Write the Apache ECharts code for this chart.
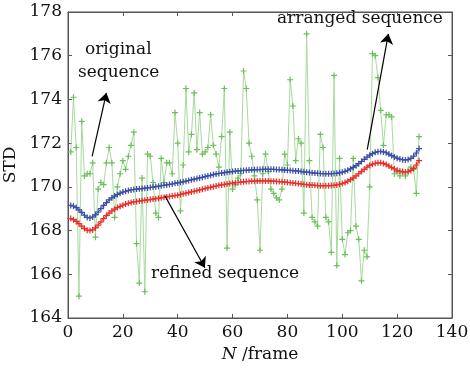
<!DOCTYPE html>
<html>
<head>
<meta charset="utf-8">
<script src="https://cdn.jsdelivr.net/npm/echarts@6/dist/echarts.min.js"></script>
<style>
html,body{margin:0;padding:0;background:#fff;}
#c{width:470px;height:371px;}
</style>
</head>
<body>
<div id="c"></div>
<script>
// ---- data ----
var xTicks = [0, 20, 40, 60, 80, 100, 120, 140];
var yTicks = [164, 166, 168, 170, 172, 174, 176, 178];
var frames = [];
for (var i = 1; i <= 128; i++) frames.push(i);

var originalSeq = [
 171.6,174.1,171.8,165.0,173.0,170.5,170.6,170.6,171.1,167.7,
 169.9,170.2,170.1,171.1,171.8,171.1,168.6,170.0,170.6,171.2,
 170.8,171.4,171.9,172.5,167.4,165.6,170.4,165.2,171.5,171.4,
 170.2,168.8,168.6,171.3,170.2,171.1,171.1,170.6,173.4,172.0,
 168.9,171.0,174.5,171.6,172.4,174.3,171.7,173.4,171.5,171.6,
 171.8,173.3,171.9,171.5,170.9,172.3,174.5,167.2,172.5,169.9,
 170.1,170.4,170.6,175.3,174.5,172.0,171.4,170.5,169.4,167.1,
 170.6,171.5,170.7,169.9,169.7,169.5,169.4,169.9,171.5,171.0,
 174.9,173.7,171.2,172.2,172.0,168.8,177.0,171.2,168.6,168.4,
 168.2,172.4,171.8,168.6,168.4,167.0,175.1,166.4,171.3,167.6,
 166.9,167.9,168.0,171.3,168.2,167.6,165.7,167.1,166.8,170.0,
 176.1,176.0,175.0,173.5,171.9,173.3,173.3,173.2,170.6,170.7,
 170.5,170.7,170.5,170.7,170.9,170.8,169.7,172.3
];

var arrangedSeq = [
 169.15,169.12,169.05,168.95,168.83,168.70,168.60,168.58,168.62,168.72,
 168.85,169.00,169.15,169.28,169.40,169.50,169.58,169.65,169.71,169.76,
 169.80,169.83,169.86,169.88,169.90,169.91,169.92,169.94,169.95,169.97,
 169.99,170.01,170.03,170.05,170.07,170.09,170.11,170.13,170.16,170.18,
 170.21,170.23,170.26,170.29,170.32,170.35,170.38,170.41,170.44,170.47,
 170.50,170.53,170.56,170.59,170.61,170.63,170.65,170.67,170.69,170.70,
 170.72,170.73,170.74,170.75,170.76,170.77,170.78,170.78,170.79,170.79,
 170.80,170.80,170.80,170.80,170.80,170.79,170.79,170.78,170.77,170.76,
 170.75,170.74,170.73,170.72,170.70,170.69,170.67,170.66,170.64,170.63,
 170.62,170.61,170.60,170.60,170.60,170.60,170.61,170.62,170.64,170.67,
 170.71,170.76,170.82,170.89,170.97,171.06,171.16,171.26,171.36,171.45,
 171.52,171.58,171.61,171.62,171.60,171.56,171.50,171.43,171.37,171.31,
 171.27,171.24,171.23,171.25,171.30,171.40,171.55,171.75
];

var refinedSeq = [
 168.55,168.50,168.42,168.32,168.20,168.09,168.02,168.00,168.03,168.12,
 168.25,168.40,168.55,168.68,168.80,168.90,168.98,169.05,169.11,169.16,
 169.21,169.25,169.28,169.31,169.33,169.35,169.37,169.39,169.40,169.42,
 169.44,169.46,169.48,169.50,169.52,169.54,169.56,169.58,169.60,169.62,
 169.65,169.68,169.71,169.74,169.77,169.80,169.83,169.86,169.89,169.92,
 169.95,169.98,170.01,170.04,170.07,170.09,170.11,170.13,170.15,170.17,
 170.19,170.20,170.22,170.23,170.24,170.25,170.26,170.26,170.27,170.27,
 170.27,170.27,170.27,170.26,170.26,170.25,170.24,170.23,170.22,170.21,
 170.19,170.18,170.16,170.15,170.13,170.12,170.10,170.09,170.08,170.07,
 170.06,170.05,170.05,170.05,170.05,170.06,170.07,170.09,170.12,170.15,
 170.20,170.26,170.33,170.41,170.50,170.60,170.70,170.80,170.90,170.98,
 171.04,171.08,171.10,171.10,171.07,171.02,170.95,170.88,170.82,170.76,
 170.72,170.69,170.68,170.70,170.75,170.85,171.00,171.20
];

// annotation arrows (data coordinates: [frame, STD])
var arrowOriginal = [[8.8, 171.4], [14.0, 174.3]];
var arrowArranged = [[109.1, 171.7], [116.8, 177.0]];
var arrowRefined  = [[35.3, 169.6], [49.9, 166.3]];

function pairs(xs, ys) { return xs.map(function (x, k) { return [x, ys[k]]; }); }

var plus = 'path://M4,0h2v4h4v2h-4v4h-2v-4h-4v-2h4z';
var font = 'DejaVu Serif';
var axisColor = '#555';

var chart = echarts.init(document.getElementById('c'), null, {renderer: 'canvas'});

function arrowLine(a) {
  return [{coord: a[0]}, {coord: a[1]}];
}

chart.setOption({
  animation: false,
  backgroundColor: '#ffffff',
  grid: {left: 68, right: 18, top: 12, bottom: 53, containLabel: false, outerBoundsMode: 'none',
         show: true, borderColor: axisColor, borderWidth: 1, backgroundColor: 'transparent'},
  xAxis: [{
    type: 'value', min: xTicks[0], max: xTicks[xTicks.length - 1], interval: 20,
    name: '{i|N} /frame', nameLocation: 'middle', nameGap: 26,
    nameTextStyle: {fontFamily: font, fontSize: 17, color: '#111',
      rich: {i: {fontFamily: font, fontStyle: 'italic', fontSize: 17, color: '#111'}}},
    axisLine: {show: true, onZero: false, lineStyle: {color: axisColor, width: 1}},
    axisTick: {show: true, inside: true, length: 4, lineStyle: {color: axisColor}},
    axisLabel: {fontFamily: font, fontSize: 17, color: '#111', margin: 6},
    splitLine: {show: false}
  }, {
    type: 'value', position: 'top', min: xTicks[0], max: xTicks[xTicks.length - 1], interval: 20,
    axisLine: {show: true, onZero: false, lineStyle: {color: axisColor, width: 1}},
    axisTick: {show: true, inside: true, length: 4, lineStyle: {color: axisColor}},
    axisLabel: {show: false}, splitLine: {show: false}
  }],
  yAxis: [{
    type: 'value', min: yTicks[0], max: yTicks[yTicks.length - 1], interval: 2,
    name: 'STD', nameLocation: 'middle', nameGap: 39, nameRotate: 90,
    nameTextStyle: {fontFamily: font, fontSize: 17, color: '#111'},
    axisLine: {show: true, onZero: false, lineStyle: {color: axisColor, width: 1}},
    axisTick: {show: true, inside: true, length: 4, lineStyle: {color: axisColor}},
    axisLabel: {fontFamily: font, fontSize: 17, color: '#111', margin: 6},
    splitLine: {show: false}
  }, {
    type: 'value', position: 'right', min: yTicks[0], max: yTicks[yTicks.length - 1], interval: 2,
    axisLine: {show: true, onZero: false, lineStyle: {color: axisColor, width: 1}},
    axisTick: {show: true, inside: true, length: 4, lineStyle: {color: axisColor}},
    axisLabel: {show: false}, splitLine: {show: false}
  }],
  series: [{
    name: 'original sequence', type: 'line', data: pairs(frames, originalSeq),
    symbol: plus, symbolSize: 6, showAllSymbol: true,
    lineStyle: {color: '#a6db9c', width: 1},
    itemStyle: {color: '#6cbf5c', borderWidth: 0},
    z: 2,
    markLine: {
      silent: true, symbol: ['none', 'arrow'], symbolSize: 10,
      lineStyle: {color: '#000', width: 1.2, type: 'solid'},
      itemStyle: {color: '#000'},
      label: {show: false}, emphasis: {disabled: true},
      data: [arrowLine(arrowOriginal), arrowLine(arrowArranged), arrowLine(arrowRefined)]
    }
  }, {
    name: 'arranged sequence', type: 'line', data: pairs(frames, arrangedSeq),
    symbol: plus, symbolSize: 6, showAllSymbol: true,
    lineStyle: {color: '#3b4da6', width: 1},
    itemStyle: {color: '#3b4da6', borderWidth: 0},
    z: 3
  }, {
    name: 'refined sequence', type: 'line', data: pairs(frames, refinedSeq),
    symbol: plus, symbolSize: 6, showAllSymbol: true,
    lineStyle: {color: '#e8302a', width: 1},
    itemStyle: {color: '#e8302a', borderWidth: 0},
    z: 3
  }],
  graphic: [
    {type: 'text', left: 85, top: 41, style: {text: 'original', fontFamily: font, fontSize: 17, fill: '#111'}},
    {type: 'text', left: 78, top: 64, style: {text: 'sequence', fontFamily: font, fontSize: 17, fill: '#111'}},
    {type: 'text', left: 277, top: 10, style: {text: 'arranged sequence', fontFamily: font, fontSize: 17, fill: '#111'}},
    {type: 'text', left: 151, top: 265, style: {text: 'refined sequence', fontFamily: font, fontSize: 17, fill: '#111'}}
  ]
});
</script>
</body>
</html>
